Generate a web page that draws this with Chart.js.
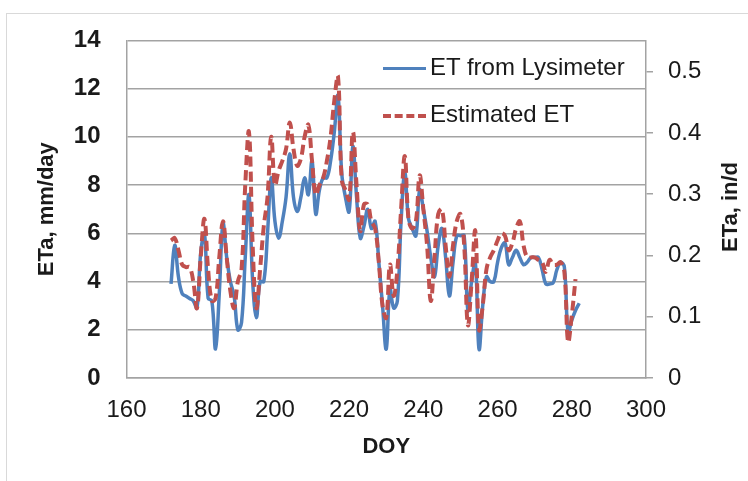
<!DOCTYPE html>
<html lang="en">
<head>
    <meta charset="UTF-8">
    <title>ETa - Lysimeter vs Estimated</title>
    <script src="https://cdn.jsdelivr.net/npm/chart.js"></script>
    <style>
        body { margin: 0; background: #fff; }
        #wrap { position: relative; width: 748px; height: 481px; overflow: hidden; }
        #frame { position: absolute; left: 6px; top: 13px; width: 800px; height: 520px;
                 border-top: 1.5px solid #d9d9d9; border-left: 1.5px solid #d9d9d9; }
        canvas { position: absolute; left: 0; top: 0; }
        .leg { position: absolute; left: 383px; font: 24px "Liberation Sans", Arial, sans-serif; color: #1a1a1a; white-space: nowrap; }
        .leg span.s { display: inline-block; width: 43px; vertical-align: middle; margin-right: 4px; }
        #rtitle { position: absolute; left: 730px; top: 207px; transform: translate(-50%, -50%) rotate(-90deg);
                  font: bold 22px "Liberation Sans", Arial, sans-serif; color: #1a1a1a; white-space: nowrap; }
    </style>
</head>
<body>
<div id="wrap">
    <div id="frame"></div>
    <canvas id="myChart" width="748" height="481"></canvas>
    <div class="leg" style="top:53px"><span class="s" style="border-top:3.5px solid #4F81BD"></span>ET from Lysimeter</div>
    <div class="leg" style="top:100px"><span class="s" style="border-top:4px dashed #C0504D"></span>Estimated ET</div>
    <div id="rtitle">ETa, in/d</div>
</div>
<script>
    // day of year
    const days = [172, 173, 174, 175, 176, 177, 178, 179, 180, 181, 182, 183, 184, 185, 186, 187, 188, 189, 190, 191,
        192, 193, 194, 195, 196, 197, 198, 199, 200, 201, 202, 203, 204, 205, 206, 207, 208, 209, 210, 211,
        212, 213, 214, 215, 216, 217, 218, 219, 220, 221, 222, 223, 224, 225, 226, 227, 228, 229, 230, 231,
        232, 233, 234, 235, 236, 237, 238, 239, 240, 241, 242, 243, 244, 245, 246, 247, 248, 249, 250, 251,
        252, 253, 254, 255, 256, 257, 258, 259, 260, 261, 262, 263, 264, 265, 266, 267, 268, 269, 270, 271,
        272, 273, 274, 275, 276, 277, 278, 279, 280, 281, 282];

    // ET from lysimeter, mm/day (DOY 172-282)
    const etLysimeter = [3.9, 5.5, 4.2, 3.5, 3.4, 3.3, 3.2, 2.9, 5.2, 6.0, 3.3, 3.2, 1.2, 3.5, 6.4, 5.0, 4.0, 3.4, 2.0, 2.3,
        5.0, 7.6, 4.0, 2.5, 4.0, 4.0, 6.0, 8.3, 6.5, 5.8, 6.5, 7.5, 9.3, 7.5, 6.9, 7.5, 8.3, 7.6, 9.0, 6.8,
        7.8, 8.3, 8.3, 9.0, 10.2, 11.7, 8.5, 7.5, 6.9, 9.6, 7.5, 5.8, 6.3, 7.0, 6.2, 6.5, 4.8, 3.0, 1.2, 3.7,
        2.9, 3.2, 6.5, 8.5, 6.6, 6.2, 5.9, 7.8, 7.0, 6.1, 5.0, 4.2, 5.5, 6.2, 5.0, 3.4, 4.8, 5.9, 5.9, 5.9,
        2.8, 4.0, 4.8, 1.2, 3.0, 4.2, 4.0, 4.0, 4.8, 5.4, 5.6, 4.7, 5.0, 5.3, 5.0, 4.7, 4.8, 5.0, 5.0, 5.0,
        4.5, 3.9, 3.9, 3.95, 4.5, 4.8, 4.6, 1.9, 2.4, 2.8, 3.1];

    // estimated ET, mm/day (DOY 172-281)
    const etEstimated = [5.7, 5.8, 5.3, 4.7, 4.6, 4.6, 4.0, 2.9, 5.0, 6.6, 4.5, 3.2, 3.3, 5.0, 6.5, 5.0, 3.6, 2.9, 4.0, 4.5,
        8.0, 10.2, 5.5, 2.9, 4.5, 6.3, 7.5, 10.0, 8.0, 8.6, 9.0, 9.5, 10.6, 9.5, 8.8, 9.1, 10.0, 10.5, 9.0, 7.6,
        8.0, 8.3, 9.0, 10.0, 11.5, 12.5, 8.2, 7.8, 7.4, 10.2, 8.0, 6.1, 7.2, 7.2, 6.5, 6.2, 4.8, 3.0, 2.5, 4.7,
        3.4, 4.5, 7.0, 9.2, 6.6, 6.2, 6.5, 8.4, 7.0, 5.5, 3.2, 5.0, 6.8, 7.0, 5.5, 4.2, 5.5, 6.5, 6.8, 5.5,
        2.2, 4.0, 6.1, 2.0, 3.0, 4.5, 5.0, 5.3, 5.7, 6.0, 5.9, 5.3, 5.6, 6.2, 6.5, 5.5, 5.0, 5.0, 5.0, 4.9,
        4.8, 4.4, 4.9, 4.7, 4.7, 4.8, 4.4, 1.5, 2.6, 4.1];

    const gridGray = '#a3a3a3';
    const tickFont = { family: '"Liberation Sans", Arial, sans-serif', size: 24 };
    const titleFont = { family: '"Liberation Sans", Arial, sans-serif', size: 22, weight: 'bold' };

    const toPoints = (vals) => vals.map((v, i) => ({ x: days[i], y: v }));

    const ctx = document.getElementById('myChart').getContext('2d');
    new Chart(ctx, {
        type: 'line',
        data: {
            datasets: [
                {
                    label: 'Estimated ET',
                    data: toPoints(etEstimated),
                    borderColor: '#C0504D',
                    borderWidth: 4,
                    borderDash: [10, 5],
                    pointRadius: 0,
                    tension: 0.4,
                    order: 0
                },
                {
                    label: 'ET from Lysimeter',
                    data: toPoints(etLysimeter),
                    borderColor: '#4F81BD',
                    borderWidth: 3.5,
                    pointRadius: 0,
                    tension: 0.4,
                    order: 1
                }
            ]
        },
        options: {
            responsive: false,
            animation: false,
            layout: { padding: { top: 37, left: 0, right: 0, bottom: 0 } },
            plugins: { legend: { display: false }, tooltip: { enabled: false } },
            scales: {
                x: {
                    type: 'linear',
                    min: 160, max: 300,
                    afterFit: (s) => { s.height = 103; },
                    ticks: { stepSize: 20, padding: 18, color: '#1a1a1a', font: tickFont },
                    grid: { display: false, drawTicks: false },
                    border: { display: true, color: gridGray, width: 1.5 },
                    title: { display: true, text: 'DOY', color: '#1a1a1a', font: titleFont, padding: { top: 0, bottom: 21 } }
                },
                y: {
                    position: 'left',
                    min: 0, max: 14,
                    afterFit: (s) => { s.width = 126.5; },
                    ticks: { stepSize: 2, padding: 26, color: '#1a1a1a', font: { ...tickFont, weight: 'bold' } },
                    grid: { color: gridGray, lineWidth: 1.5, drawTicks: false },
                    border: { display: true, color: gridGray, width: 1.5 },
                    title: { display: true, text: 'ETa, mm/day', color: '#1a1a1a', font: titleFont, padding: { top: 34, bottom: 0 } }
                },
                y2: {
                    position: 'right',
                    min: 0, max: 14 / 25.4,
                    afterFit: (s) => { s.width = 102; },
                    ticks: { stepSize: 0.1, includeBounds: false, padding: 15, color: '#1a1a1a', font: tickFont },
                    grid: { drawOnChartArea: false, drawTicks: true, tickLength: 7, color: gridGray, lineWidth: 1.5 },
                    border: { display: true, color: gridGray, width: 1.5 }
                }
            }
        }
    });
</script>
</body>
</html>
